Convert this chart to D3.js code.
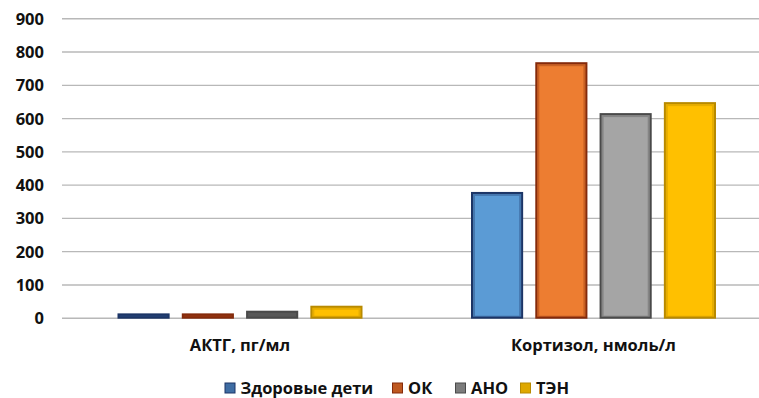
<!DOCTYPE html>
<html>
<head>
<meta charset="utf-8">
<script src="https://cdn.jsdelivr.net/npm/d3@7"></script>
<style>
  html, body { margin: 0; padding: 0; background: #ffffff; }
  svg { display: block; }
  text { font-family: "Open Sans", "Noto Sans", sans-serif; font-weight: 700; fill: #111; }
</style>
</head>
<body>
<svg id="chart" width="759" height="398"></svg>
<script>
// Hormone levels by group
const categories = ["АКТГ, пг/мл", "Кортизол, нмоль/л"];
const seriesNames = ["Здоровые дети", "ОК", "АНО", "ТЭН"];
const healthy = [10, 375];
const ok = [10, 765];
const ano = [18, 612];
const ten = [33, 645];
const yTicks = [0, 100, 200, 300, 400, 500, 600, 700, 800, 900];

const seriesValues = [healthy, ok, ano, ten];
const fills = ["#5b9bd5", "#ed7d31", "#a5a5a5", "#ffc000"];
const borders = ["#1c3566", "#842a0b", "#4a4a4a", "#b88a00"];

const svg = d3.select("#chart");

const y = d3.scaleLinear().domain([0, 900]).range([317.7, 18.3]);
const x0 = d3.scaleBand().domain(categories).range([63.25, 770.25]).paddingInner(0).paddingOuter(0);
const x1 = d3.scaleBand().domain(seriesNames)
  .range([(x0.bandwidth() - 243) / 2, (x0.bandwidth() + 243) / 2])
  .paddingInner(0.22).paddingOuter(0);

// gridlines and value ticks
const yAxis = d3.axisLeft(y).tickValues(yTicks).tickSize(-(759 - 62)).tickPadding(18);
const gAxis = svg.append("g").attr("transform", "translate(62,0)").call(yAxis);
gAxis.select(".domain").remove();
gAxis.selectAll(".tick line").attr("stroke", "#b8b8b8").attr("stroke-width", 1.4);
gAxis.selectAll(".tick text").attr("font-size", 16.5).attr("fill", "#111").attr("dy", "0.36em")
  .attr("font-family", "'Open Sans', sans-serif").attr("font-weight", 700);

// bars with a dark rim and a soft inner shade
const groups = svg.append("g").selectAll("g")
  .data(categories)
  .join("g")
  .attr("transform", d => `translate(${x0(d)},0)`);

groups.each(function(cat, ci) {
  const g = d3.select(this);
  seriesNames.forEach((s, si) => {
    const v = seriesValues[si][ci];
    const bx = x1(s), bw = x1.bandwidth();
    const top = y(v), h = y(0) - y(v);
    const small = h < 8;
    g.append("rect")
      .attr("x", bx).attr("y", top)
      .attr("width", bw).attr("height", h)
      .attr("fill", small ? d3.interpolateRgb(fills[si], borders[si])(0.85) : fills[si])
      .attr("stroke", borders[si]).attr("stroke-width", 2);
    if (!small) {
      g.append("rect")
        .attr("x", bx + 2).attr("y", top + 2)
        .attr("width", bw - 4).attr("height", h - 3)
        .attr("fill", "none")
        .attr("stroke", borders[si]).attr("stroke-opacity", 0.35).attr("stroke-width", 2);
    }
  });
});

// category labels
svg.append("g").selectAll("text")
  .data(categories)
  .join("text")
  .attr("x", d => x0(d) + x0.bandwidth() / 2)
  .attr("y", 351)
  .attr("text-anchor", "middle")
  .attr("font-size", 16.5)
  .text(d => d);

// legend
const legendX = [225, 392.5, 455.5, 520.5];
const legend = svg.append("g").selectAll("g")
  .data(seriesNames)
  .join("g")
  .attr("transform", (d, i) => `translate(${legendX[i]},383)`);
legend.append("rect")
  .attr("width", 10).attr("height", 10)
  .attr("fill", (d, i) => d3.interpolateRgb(fills[i], borders[i])(0.45))
  .attr("stroke", (d, i) => borders[i]).attr("stroke-width", 1);
legend.append("text")
  .attr("x", 15.5).attr("y", 10.5)
  .attr("font-size", 16.5)
  .text(d => d);
</script>
</body>
</html>
